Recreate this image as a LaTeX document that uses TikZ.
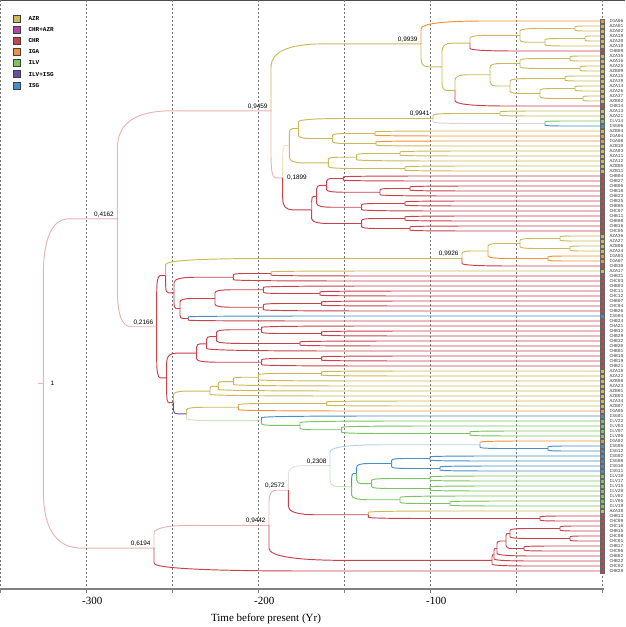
\documentclass[tikz,border=0pt]{standalone}
\usepackage{fontspec}
\setmainfont{Liberation Serif}
\newfontfamily\tipfont{Liberation Mono}
\newfontfamily\labfont{Liberation Sans}
\usetikzlibrary{calc}
\definecolor{cAZR}{RGB}{204,186,90}
\definecolor{cCA}{RGB}{180,70,160}
\definecolor{cCHR}{RGB}{200,66,76}
\definecolor{cIGA}{RGB}{242,146,60}
\definecolor{cILV}{RGB}{122,196,98}
\definecolor{cIS}{RGB}{104,80,164}
\definecolor{cISG}{RGB}{72,142,200}
\def\cf{0.35}
\newcommand\nd[3]{\coordinate (#1) at (#2,-#3);}
\newcommand\inode[4]{\path let \p1=($(#3)!.5!(#4)$) in coordinate (#1) at (#2pt,\y1);}
\newcommand\br[3]{\draw[br,#3] let \p1=(#1), \p2=(#2) in (\x1,\y1) -- (\x1,{\y2+(\y1-\y2)*\cf}) .. controls (\x1,{\y2+(\y1-\y2)*\cf/3}) and ({\x1+(\x2-\x1)*\cf/3},\y2) .. ({\x1+(\x2-\x1)*\cf},\y2) -- (\x2,\y2);}
\newcommand\deftip[3]{\expandafter\gdef\csname tl#1\endcsname{#2}\expandafter\gdef\csname tc#1\endcsname{#3}}
\newcommand\tb[2]{\edef\cc{\csname tc#2\endcsname}\br{#1}{t#2}{draw=\cc}}
\newcommand\cherry[4]{\inode{#1}{#2}{t#3}{t#4}}
\deftip{1}{IGA06}{cIGA}\deftip{2}{AZA01}{cAZR}\deftip{3}{AZA02}{cAZR}\deftip{4}{AZA19}{cAZR}
\deftip{5}{AZA20}{cAZR}\deftip{6}{AZA10}{cAZR}\deftip{7}{CHB09}{cCHR}\deftip{8}{AZA35}{cAZR}
\deftip{9}{AZA16}{cAZR}\deftip{10}{AZA25}{cAZR}\deftip{11}{AZB09}{cAZR}\deftip{12}{AZA15}{cAZR}
\deftip{13}{AZA39}{cAZR}\deftip{14}{AZA14}{cAZR}\deftip{15}{AZA26}{cAZR}\deftip{16}{AZA37}{cAZR}
\deftip{17}{AZB02}{cAZR}\deftip{18}{CHB14}{cCHR}\deftip{19}{AZA13}{cAZR}\deftip{20}{AZA21}{cAZR}
\deftip{21}{ILV14}{cILV}\deftip{22}{ISG06}{cISG}\deftip{23}{AZB04}{cAZR}\deftip{24}{IGA04}{cIGA}
\deftip{25}{IGA08}{cIGA}\deftip{26}{AZB10}{cAZR}\deftip{27}{AZA03}{cAZR}\deftip{28}{AZA11}{cAZR}
\deftip{29}{AZA12}{cAZR}\deftip{30}{AZB05}{cAZR}\deftip{31}{AZB11}{cAZR}\deftip{32}{CHB04}{cCHR}
\deftip{33}{CHB27}{cCHR}\deftip{34}{CHB06}{cCHR}\deftip{35}{CHB18}{cCHR}\deftip{36}{CHB23}{cCHR}
\deftip{37}{CHB25}{cCHR}\deftip{38}{CHB05}{cCHR}\deftip{39}{CHC07}{cCHR}\deftip{40}{CHB11}{cCHR}
\deftip{41}{CHB08}{cCHR}\deftip{42}{CHB16}{cCHR}\deftip{43}{CHC05}{cCHR}\deftip{44}{AZA36}{cAZR}
\deftip{45}{AZA27}{cAZR}\deftip{46}{AZB06}{cAZR}\deftip{47}{AZA24}{cAZR}\deftip{48}{IGA03}{cIGA}
\deftip{49}{IGA07}{cIGA}\deftip{50}{CHB30}{cCHR}\deftip{51}{AZA17}{cAZR}\deftip{52}{CHB31}{cCHR}
\deftip{53}{CHC03}{cCHR}\deftip{54}{CHB03}{cCHR}\deftip{55}{CHC11}{cCHR}\deftip{56}{CHC12}{cCHR}
\deftip{57}{CHB07}{cCHR}\deftip{58}{CHC04}{cCHR}\deftip{59}{CHB26}{cCHR}\deftip{60}{ISG04}{cISG}
\deftip{61}{CHB24}{cCHR}\deftip{62}{CHA21}{cCHR}\deftip{63}{CHB12}{cCHR}\deftip{64}{CHB29}{cCHR}
\deftip{65}{CHB32}{cCHR}\deftip{66}{CHB20}{cCHR}\deftip{67}{CHB01}{cCHR}\deftip{68}{CHB10}{cCHR}
\deftip{69}{CHB19}{cCHR}\deftip{70}{CHB21}{cCHR}\deftip{71}{AZA18}{cAZR}\deftip{72}{AZA22}{cAZR}
\deftip{73}{AZB08}{cAZR}\deftip{74}{AZA23}{cAZR}\deftip{75}{AZB01}{cAZR}\deftip{76}{AZB03}{cAZR}
\deftip{77}{AZA34}{cAZR}\deftip{78}{AZB07}{cAZR}\deftip{79}{IGA05}{cIGA}\deftip{80}{ISG01}{cISG}
\deftip{81}{ILV22}{cILV}\deftip{82}{ILV03}{cILV}\deftip{83}{ILV07}{cILV}\deftip{84}{ILV06}{cILV}
\deftip{85}{IGA02}{cIGA}\deftip{86}{ISG05}{cISG}\deftip{87}{ISG12}{cISG}\deftip{88}{ISG02}{cISG}
\deftip{89}{ISG08}{cISG}\deftip{90}{ISG10}{cISG}\deftip{91}{ISG11}{cISG}\deftip{92}{ILV10}{cILV}
\deftip{93}{ILV17}{cILV}\deftip{94}{ILV15}{cILV}\deftip{95}{ILV20}{cILV}\deftip{96}{ILV02}{cILV}
\deftip{97}{ILV05}{cILV}\deftip{98}{ILV19}{cILV}\deftip{99}{AZA38}{cAZR}\deftip{100}{CHB13}{cCHR}
\deftip{101}{CHC09}{cCHR}\deftip{102}{CHC10}{cCHR}\deftip{103}{CHB15}{cCHR}\deftip{104}{CHC08}{cCHR}
\deftip{105}{CHC01}{cCHR}\deftip{106}{CHB17}{cCHR}\deftip{107}{CHC06}{cCHR}\deftip{108}{CHB02}{cCHR}
\deftip{109}{CHB22}{cCHR}\deftip{110}{CHC02}{cCHR}\deftip{111}{CHB28}{cCHR}
\begin{document}
\begin{tikzpicture}[x=1pt,y=1pt,
  br/.style={line width=0.95pt},
  pale/.style={draw opacity=0.4},
  grid/.style={draw=black!55,line width=0.5pt,dash pattern=on 2pt off 2pt},
  tipsq/.style={draw=black!60,line width=0.3pt,minimum size=3.6pt,inner sep=0pt,rectangle},
  tiplab/.style={anchor=west,inner sep=0pt,text=black!75,font=\tipfont\fontsize{4.6}{5}\selectfont},
  legsq/.style={draw=black!75,line width=0.6pt,minimum size=7pt,inner sep=0pt,rectangle},
  leglab/.style={anchor=west,inner sep=0pt,font=\tipfont\bfseries\fontsize{6}{7}\selectfont},
  plab/.style={inner sep=0pt,font=\labfont\fontsize{6.4}{7}\selectfont},
  axlab/.style={inner sep=0pt,font=\fontsize{11}{13}\selectfont}]
\useasboundingbox (0,0) rectangle (625,-627);
\fill[white] (0,0) rectangle (625,-627);
\draw[black!70,line width=0.8pt] (0,-0.4) -- (625,-0.4);
% grid
\foreach \k in {0,...,7}{\draw[grid] (0.3+86*\k,0) -- (0.3+86*\k,-589);}
\draw[black!50,line width=1.6pt] (0,-589) -- (604,-589);
\foreach \k in {0,...,7}{\draw[black!50,line width=0.8pt] (0.3+86*\k,-589) -- (0.3+86*\k,-593);}
\node[axlab] (ax3) at (92.3,-601) {-300};
\node[axlab] (ax2) at (264.3,-601) {-200};
\node[axlab] (ax1) at (436.3,-601) {-100};
\node[axlab] (axt) at (266,-619) {Time before present (Yr)};
% legend
\foreach \c/\t [count=\n from 0] in {cAZR/AZR,cCA/CHR+AZR,cCHR/CHR,cIGA/IGA,cILV/ILV,cIS/ILV+ISG,cISG/ISG}{
  \node[legsq,fill=\c] (lg\n) at (17,{-18.3-11.17*\n}) {};
  \node[leglab] (lt\n) at (28.3,{-18.3-11.17*\n}) {\t};}
% tips
\foreach \i in {1,...,111}{\coordinate (t\i) at (602.3,{-(16+5*\i)});}
% ---- internal nodes (bottom-up)
% 0.9939 clade
\cherry{c2}{575}{2}{3}
\cherry{c4}{585}{4}{5}
\inode{Y1b}{545}{c4}{t6}
\inode{Y1}{520}{c2}{Y1b}
\inode{M1}{470}{Y1}{t7}
\cherry{c8}{570}{8}{9}
\cherry{c10}{580}{10}{11}
\inode{Y2a}{520}{c8}{c10}
\cherry{c12}{565}{12}{13}
\cherry{c14}{575}{14}{15}
\cherry{c16}{583}{16}{17}
\inode{Y2c}{540}{c14}{c16}
\inode{Y2b}{510}{c12}{Y2c}
\inode{Y2}{490}{Y2a}{Y2b}
\inode{M2}{455}{Y2}{t18}
\inode{M}{442}{M1}{M2}
\inode{N9939}{421}{t1}{M}
% 0.1899 clade
\cherry{c19}{500}{19}{20}
\cherry{c21}{545}{21}{22}
\inode{N116}{433}{c19}{c21}
\cherry{c23}{375}{23}{24}
\cherry{c25}{376}{25}{26}
\inode{N332}{332.7}{c23}{c25}
\inode{N298}{298.3}{N116}{N332}
\cherry{c27}{400}{27}{28}
\inode{N356d}{356.7}{c27}{t29}
\cherry{c30}{405}{30}{31}
\inode{N328}{328.3}{N356d}{c30}
\inode{Dy}{289.3}{N298}{N328}
\cherry{c32}{343.3}{32}{33}
\cherry{c34}{410}{34}{35}
\inode{Dr1c}{380}{c34}{t36}
\inode{Dr1a}{326.7}{c32}{Dr1c}
\cherry{c37}{405}{37}{38}
\inode{Dr1b}{361.7}{c37}{t39}
\inode{Dr1}{316.7}{Dr1a}{Dr1b}
\cherry{c40}{405}{40}{41}
\cherry{c42}{410}{42}{43}
\inode{Dr2}{361.7}{c40}{c42}
\inode{Dr}{311.7}{Dr1}{Dr2}
\inode{D}{282.7}{Dy}{Dr}
\inode{C}{271}{N9939}{D}
% 0.9926 clade and relatives
\cherry{c44}{560}{44}{45}
\cherry{c46}{570}{46}{47}
\inode{G1}{520}{c44}{c46}
\cherry{c48}{548}{48}{49}
\inode{G}{488}{G1}{c48}
\inode{N9926}{462}{G}{t50}
\cherry{c51}{271}{51}{52}
\inode{N233}{233.3}{c51}{t53}
\cherry{c55}{320}{55}{56}
\inode{N263a}{263.3}{t54}{c55}
\cherry{c57}{321.7}{57}{58}
\inode{N263b}{263.3}{c57}{t59}
\inode{N215}{215}{N263a}{N263b}
\cherry{c60}{188.3}{60}{61}
\inode{N188}{180}{N215}{c60}
\inode{B1b}{174}{N233}{N188}
\inode{B1}{165.7}{N9926}{B1b}
% B2
\cherry{c63}{321.7}{63}{64}
\inode{N261a}{261.7}{t62}{c63}
\cherry{N300}{300}{65}{66}
\inode{N216}{216.7}{N261a}{N300}
\inode{N206}{206.7}{N216}{t67}
\cherry{c68}{321.7}{68}{69}
\inode{N261b}{261.7}{c68}{t70}
\inode{B2r}{196.7}{N206}{N261b}
\cherry{c71}{321.7}{71}{72}
\inode{c73}{258.3}{c71}{t73}
\inode{c74}{233.3}{c73}{t74}
\inode{c75}{218.3}{c74}{t75}
\inode{B2y}{210}{c75}{t76}
\cherry{c77}{326.7}{77}{78}
\inode{B2q}{238.3}{c77}{t79}
\cherry{c83}{470}{83}{84}
\inode{N341}{341.7}{t82}{c83}
\inode{N300g}{300}{t81}{N341}
\inode{B2g}{261.7}{t80}{N300g}
\inode{B2p}{186.7}{B2q}{B2g}
\inode{B2b}{173.3}{B2y}{B2p}
\inode{B2}{166.7}{B2r}{B2b}
\inode{B}{156.7}{B1}{B2}
\inode{A}{117.3}{C}{B}
% lower part
\cherry{c86}{548}{86}{87}
\inode{N85}{480}{t85}{c86}
\cherry{c88}{430}{88}{89}
\cherry{c90}{440}{90}{91}
\inode{Nisgb}{391.7}{c88}{c90}
\cherry{c92}{430}{92}{93}
\cherry{c94}{430}{94}{95}
\inode{Nilg}{371.7}{c92}{c94}
\inode{N356p}{356.7}{Nisgb}{Nilg}
\cherry{c97}{450}{97}{98}
\inode{Nilv2}{400}{t96}{c97}
\inode{Nil}{351.7}{N356p}{Nilv2}
\inode{N2308}{330}{N85}{Nil}
\cherry{c100}{540}{100}{101}
\inode{N368}{368.3}{t99}{c100}
\inode{N2572}{288.3}{N2308}{N368}
\cherry{c102}{560}{102}{103}
\cherry{c104}{570}{104}{105}
\inode{Q1}{510}{c102}{c104}
\cherry{c106}{524}{106}{107}
\inode{Q2}{506}{Q1}{c106}
\inode{Q3}{497}{Q2}{t108}
\inode{Q4}{494}{Q3}{t109}
\inode{Nbot}{492}{Q4}{t110}
\inode{N9442}{269}{N2572}{Nbot}
\inode{P}{154}{N9442}{t111}
\inode{root}{43.3}{A}{P}
% ---- branches
\draw[br,draw=cCHR,pale] ([xshift=-5.3pt]root) -- (root);
\br{root}{A}{draw=cCHR,pale}
\br{root}{P}{draw=cCHR,pale}
\br{A}{C}{draw=cCHR,pale}
\br{A}{B}{draw=cCHR,pale}
\br{C}{N9939}{draw=cAZR}
\br{C}{D}{draw=cCHR,pale}
% 0.9939
\tb{N9939}{1}\br{N9939}{M}{draw=cAZR}
\br{M}{M1}{draw=cAZR}\br{M}{M2}{draw=cAZR}
\br{M1}{Y1}{draw=cAZR}\tb{M1}{7}
\br{Y1}{c2}{draw=cAZR}\br{Y1}{Y1b}{draw=cAZR}
\tb{c2}{2}\tb{c2}{3}\br{Y1b}{c4}{draw=cAZR}\tb{Y1b}{6}\tb{c4}{4}\tb{c4}{5}
\br{M2}{Y2}{draw=cAZR}\tb{M2}{18}
\br{Y2}{Y2a}{draw=cAZR}\br{Y2}{Y2b}{draw=cAZR}
\br{Y2a}{c8}{draw=cAZR}\br{Y2a}{c10}{draw=cAZR}
\tb{c8}{8}\tb{c8}{9}\tb{c10}{10}\tb{c10}{11}
\br{Y2b}{c12}{draw=cAZR}\br{Y2b}{Y2c}{draw=cAZR}
\tb{c12}{12}\tb{c12}{13}
\br{Y2c}{c14}{draw=cAZR}\br{Y2c}{c16}{draw=cAZR}
\tb{c14}{14}\tb{c14}{15}\tb{c16}{16}\tb{c16}{17}
% 0.1899
\br{D}{Dy}{draw=cAZR,pale}
\br{D}{Dr}{draw=cCHR}
\br{Dy}{N298}{draw=cAZR}
\br{Dy}{N328}{draw=cAZR}
\br{N298}{N116}{draw=cAZR}
\br{N298}{N332}{draw=cAZR}
\br{N116}{c19}{draw=cAZR}
\br{N116}{c21}{draw=black!40,pale}
\tb{c19}{19}\tb{c19}{20}\tb{c21}{21}\tb{c21}{22}
\br{N332}{c23}{draw=cAZR}\br{N332}{c25}{draw=cAZR}
\tb{c23}{23}\tb{c23}{24}\tb{c25}{25}\tb{c25}{26}
\br{N328}{N356d}{draw=cAZR}\br{N328}{c30}{draw=cAZR}
\br{N356d}{c27}{draw=cAZR}\tb{N356d}{29}
\tb{c27}{27}\tb{c27}{28}\tb{c30}{30}\tb{c30}{31}
\br{Dr}{Dr1}{draw=cCHR}\br{Dr}{Dr2}{draw=cCHR}
\draw[br,draw=cILV] (Dr) -- ([yshift=8pt]Dr);
\br{Dr1}{Dr1a}{draw=cCHR}\br{Dr1}{Dr1b}{draw=cCHR}
\br{Dr1a}{c32}{draw=cCHR}\br{Dr1a}{Dr1c}{draw=cCHR}
\tb{c32}{32}\tb{c32}{33}\br{Dr1c}{c34}{draw=cCHR}\tb{Dr1c}{36}\tb{c34}{34}\tb{c34}{35}
\br{Dr1b}{c37}{draw=cCHR}\tb{Dr1b}{39}\tb{c37}{37}\tb{c37}{38}
\br{Dr2}{c40}{draw=cCHR}\br{Dr2}{c42}{draw=cCHR}
\tb{c40}{40}\tb{c40}{41}\tb{c42}{42}\tb{c42}{43}
% B
\br{B}{B1}{draw=cCHR}
\br{B}{B2}{draw=cCHR}
\br{B1}{N9926}{draw=cAZR}
\br{B1}{B1b}{draw=cCHR}
\br{N9926}{G}{draw=cAZR}\tb{N9926}{50}
\br{G}{G1}{draw=cAZR}\br{G}{c48}{draw=cIGA}
\br{G1}{c44}{draw=cAZR}\br{G1}{c46}{draw=cAZR}
\tb{c44}{44}\tb{c44}{45}\tb{c46}{46}\tb{c46}{47}\tb{c48}{48}\tb{c48}{49}
\br{B1b}{N233}{draw=cCHR}\br{B1b}{N188}{draw=cCHR}
\br{N233}{c51}{draw=cCHR}\tb{N233}{53}\tb{c51}{51}\tb{c51}{52}
\br{N188}{N215}{draw=cCHR}\br{N188}{c60}{draw=cCHR}
\tb{c60}{60}\tb{c60}{61}
\br{N215}{N263a}{draw=cCHR}\br{N215}{N263b}{draw=cCHR}
\tb{N263a}{54}\br{N263a}{c55}{draw=cCHR}\tb{c55}{55}\tb{c55}{56}
\br{N263b}{c57}{draw=cCHR}\tb{N263b}{59}\tb{c57}{57}\tb{c57}{58}
\br{B2}{B2r}{draw=cCHR}
\br{B2}{B2b}{draw=cCHR}
\br{B2r}{N206}{draw=cCHR}\br{B2r}{N261b}{draw=cCHR}
\br{N206}{N216}{draw=cCHR}\tb{N206}{67}
\br{N216}{N261a}{draw=cCHR}\br{N216}{N300}{draw=cCHR}
\tb{N261a}{62}\br{N261a}{c63}{draw=cCHR}\tb{c63}{63}\tb{c63}{64}
\tb{N300}{65}\tb{N300}{66}
\br{N261b}{c68}{draw=cCHR}\tb{N261b}{70}\tb{c68}{68}\tb{c68}{69}
\br{B2b}{B2y}{draw=cAZR}
\br{B2b}{B2p}{draw=cIS}
\br{B2y}{c75}{draw=cAZR}\tb{B2y}{76}
\br{c75}{c74}{draw=cAZR}\tb{c75}{75}
\br{c74}{c73}{draw=cAZR}\tb{c74}{74}
\br{c73}{c71}{draw=cAZR}\tb{c73}{73}
\tb{c71}{71}\tb{c71}{72}
\br{B2p}{B2q}{draw=cAZR}
\br{B2p}{B2g}{draw=cILV,pale}
\br{B2q}{c77}{draw=cAZR}\tb{B2q}{79}\tb{c77}{77}\tb{c77}{78}
\tb{B2g}{80}\br{B2g}{N300g}{draw=cILV}
\tb{N300g}{81}\br{N300g}{N341}{draw=cILV}
\tb{N341}{82}\br{N341}{c83}{draw=cILV}\tb{c83}{83}\tb{c83}{84}
% P
\br{P}{N9442}{draw=cCHR,pale}
\br{P}{t111}{draw=cCHR}
\br{N9442}{N2572}{draw=cCHR,pale}
\br{N9442}{Nbot}{draw=cCHR}
\br{N2572}{N2308}{draw=black!30,pale}
\br{N2572}{N368}{draw=cCHR}
\br{N2308}{N85}{draw=cISG,pale}
\br{N2308}{Nil}{draw=cILV,pale}
\tb{N85}{85}\br{N85}{c86}{draw=cISG}\tb{c86}{86}\tb{c86}{87}
\br{Nil}{N356p}{draw=cISG}\br{Nil}{Nilv2}{draw=cILV}
\br{N356p}{Nisgb}{draw=cISG}\br{N356p}{Nilg}{draw=cILV}
\br{Nisgb}{c88}{draw=cISG}\br{Nisgb}{c90}{draw=cISG}
\tb{c88}{88}\tb{c88}{89}\tb{c90}{90}\tb{c90}{91}
\br{Nilg}{c92}{draw=cILV}\br{Nilg}{c94}{draw=cILV}
\tb{c92}{92}\tb{c92}{93}\tb{c94}{94}\tb{c94}{95}
\tb{Nilv2}{96}\br{Nilv2}{c97}{draw=cILV}\tb{c97}{97}\tb{c97}{98}
\tb{N368}{99}\br{N368}{c100}{draw=cCHR}\tb{c100}{100}\tb{c100}{101}
\br{Nbot}{Q4}{draw=cCHR}\tb{Nbot}{110}
\br{Q4}{Q3}{draw=cCHR}\tb{Q4}{109}
\br{Q3}{Q2}{draw=cCHR}\tb{Q3}{108}
\br{Q2}{Q1}{draw=cCHR}\br{Q2}{c106}{draw=cCHR}
\tb{c106}{106}\tb{c106}{107}
\br{Q1}{c102}{draw=cCHR}\br{Q1}{c104}{draw=cCHR}
\tb{c102}{102}\tb{c102}{103}\tb{c104}{104}\tb{c104}{105}
% node labels
\node[plab,anchor=west] (l1) at ([xshift=7.2pt]root) {1};
\node[plab,anchor=south east] (l4162) at ([xshift=-3.3pt,yshift=1.6pt]A) {0,4162};
\node[plab,anchor=south east] (l9459) at ([xshift=-3.3pt,yshift=1.6pt]C) {0,9459};
\node[plab,anchor=west] (l1899) at ([xshift=4.3pt]D) {0,1899};
\node[plab,anchor=south east] (l9939) at ([xshift=-3.3pt,yshift=1.6pt]N9939) {0,9939};
\node[plab,anchor=south east] (l9941) at ([xshift=-3.3pt,yshift=1.6pt]N116) {0,9941};
\node[plab,anchor=south east] (l2166) at ([xshift=-3.3pt,yshift=1.6pt]B) {0,2166};
\node[plab,anchor=south east] (l9926) at ([xshift=-3.3pt,yshift=1.6pt]N9926) {0,9926};
\node[plab,anchor=south east] (l6194) at ([xshift=-3.3pt,yshift=1.6pt]P) {0,6194};
\node[plab,anchor=south east] (l9442) at ([xshift=-3.3pt,yshift=1.6pt]N9442) {0,9442};
\node[plab,anchor=south east] (l2572) at ([xshift=-3.3pt,yshift=1.6pt]N2572) {0,2572};
\node[plab,anchor=south east] (l2308) at ([xshift=-3.3pt,yshift=1.6pt]N2308) {0,2308};
% tip markers and labels
\foreach \i in {1,...,111}{\edef\cc{\csname tc\i\endcsname}
  \node[tipsq,fill=\cc] (q\i) at (t\i) {};
  \node[tiplab] (lb\i) at ([xshift=7.2pt]t\i) {\csname tl\i\endcsname};}
\end{tikzpicture}
\end{document}
